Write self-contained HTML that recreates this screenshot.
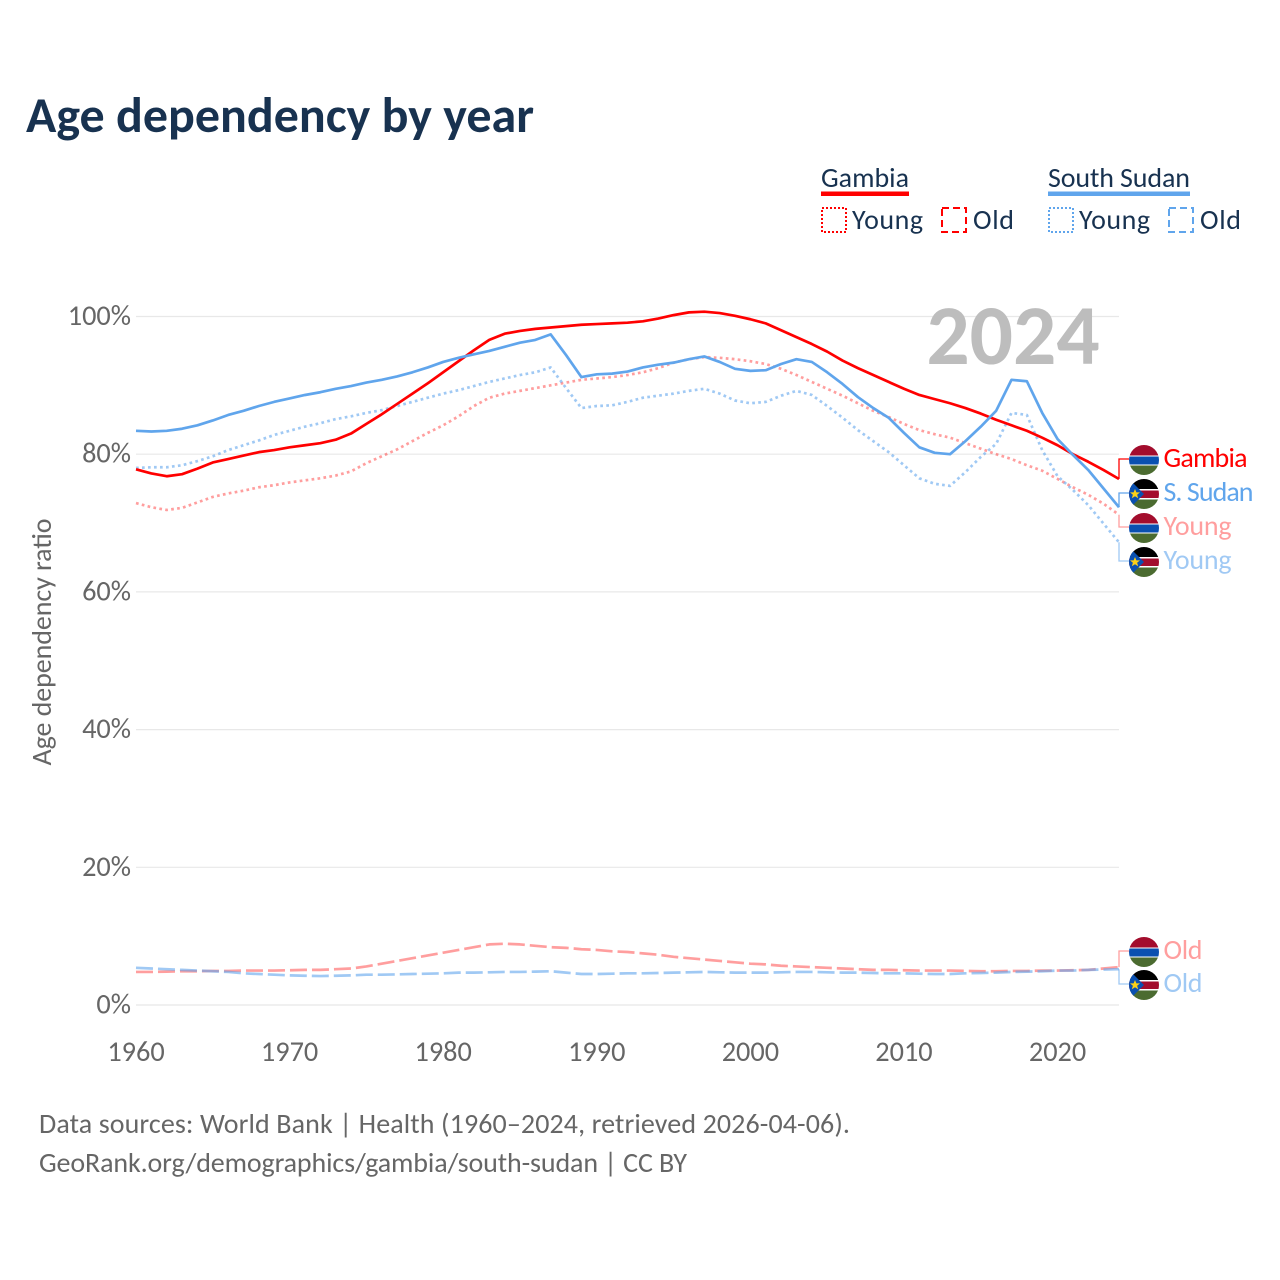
<!DOCTYPE html>
<html lang="en">
<head>
<meta charset="utf-8">
<title>Age dependency by year</title>
<style>
html,body{margin:0;padding:0;background:#fff;width:1280px;height:1280px;overflow:hidden}
svg{display:block}
text{font-family:"Carlito","Lato","Liberation Sans",sans-serif}
</style>
</head>
<body>
<svg id="chart" width="1280" height="1280" viewBox="0 0 1280 1280" xmlns="http://www.w3.org/2000/svg">
<defs>
<clipPath id="flagClip"><circle cx="0" cy="0" r="15"/></clipPath>
<g id="flag-gm">
<g clip-path="url(#flagClip)">
<rect x="-15" y="-15" width="30" height="30" fill="#fff"/>
<rect x="-15" y="-15" width="30" height="10.5" fill="#a30d2d"/>
<rect x="-15" y="-3.5" width="30" height="8" fill="#0a50b0"/>
<rect x="-15" y="5.5" width="30" height="10" fill="#4b6b30"/>
</g>
</g>
<g id="flag-ss">
<g clip-path="url(#flagClip)">
<rect x="-15" y="-15" width="30" height="30" fill="#fff"/>
<rect x="-15" y="-15" width="30" height="10" fill="#000"/>
<rect x="-15" y="-3.5" width="30" height="7.5" fill="#a30d2d"/>
<rect x="-15" y="5.5" width="30" height="10" fill="#4b6b30"/>
<polygon points="-16,-16 0,0 -16,16" fill="#0a50b0"/>
<polygon points="-9,-5 -7.6,-1.6 -4,-1.6 -6.9,0.7 -5.8,4.3 -9,2.2 -12.2,4.3 -11.1,0.7 -14,-1.6 -10.4,-1.6" fill="#fcd116"/>
</g>
</g>
</defs>
<text x="26" y="132" font-size="50" font-weight="700" fill="#183250" textLength="508" lengthAdjust="spacing">Age dependency by year</text>

<text x="821" y="187" font-size="28" fill="#183250" textLength="88">Gambia</text>
<rect x="821" y="191.5" width="88" height="4.5" fill="#ff0000"/>
<rect x="822" y="208" width="24" height="24" fill="none" stroke="#ff0000" stroke-width="2" stroke-dasharray="2 2"/>
<text x="852" y="229" font-size="28" fill="#183250" textLength="71">Young</text>
<rect x="942" y="208" width="24" height="24" fill="none" stroke="#ff0000" stroke-width="2" stroke-dasharray="7 4"/>
<text x="973" y="229" font-size="28" fill="#183250" textLength="41">Old</text>

<text x="1048" y="187" font-size="28" fill="#183250" textLength="142">South Sudan</text>
<rect x="1048" y="191.5" width="142" height="4.5" fill="#60a5ec"/>
<rect x="1049" y="208" width="24" height="24" fill="none" stroke="#60a5ec" stroke-width="2" stroke-dasharray="2 2"/>
<text x="1079" y="229" font-size="28" fill="#183250" textLength="71">Young</text>
<rect x="1169" y="208" width="24" height="24" fill="none" stroke="#60a5ec" stroke-width="2" stroke-dasharray="7 4"/>
<text x="1200" y="229" font-size="28" fill="#183250" textLength="41">Old</text>

<g id="grid"></g>
<g id="yticks"></g>
<g id="xticks"></g>
<text x="1013" y="364" font-size="85.5" font-weight="700" fill="#bdbdbd" text-anchor="middle" id="yearMark">2024</text>
<text transform="translate(51,642) rotate(-90)" font-size="28" fill="#666" text-anchor="middle" textLength="247">Age dependency ratio</text>
<g id="series"></g>
<g id="endlabels"></g>

<text x="39" y="1133" font-size="28" fill="#666" textLength="811">Data sources: World Bank | Health (1960–2024, retrieved 2026-04-06).</text>
<text x="39" y="1172" font-size="28" fill="#666" textLength="648">GeoRank.org/demographics/gambia/south-sudan | CC BY</text>
</svg>
<script>
const years = [1960,1961,1962,1963,1964,1965,1966,1967,1968,1969,1970,1971,1972,1973,1974,1975,1976,1977,1978,1979,1980,1981,1982,1983,1984,1985,1986,1987,1988,1989,1990,1991,1992,1993,1994,1995,1996,1997,1998,1999,2000,2001,2002,2003,2004,2005,2006,2007,2008,2009,2010,2011,2012,2013,2014,2015,2016,2017,2018,2019,2020,2021,2022,2023,2024];
const gambiaTotal = [77.8,77.2,76.8,77.1,77.9,78.8,79.3,79.8,80.3,80.6,81.0,81.3,81.6,82.1,83.0,84.4,85.8,87.3,88.8,90.3,91.9,93.5,95.1,96.6,97.5,97.9,98.2,98.4,98.6,98.8,98.9,99.0,99.1,99.3,99.7,100.2,100.6,100.7,100.5,100.1,99.6,99.0,98.0,97.0,96.0,94.9,93.6,92.5,91.5,90.5,89.5,88.6,88.0,87.4,86.7,85.9,85.0,84.2,83.4,82.4,81.3,80.0,78.9,77.7,76.4];
const sudanTotal = [83.4,83.3,83.4,83.7,84.2,84.9,85.7,86.3,87.0,87.6,88.1,88.6,89.0,89.5,89.9,90.4,90.8,91.3,91.9,92.6,93.4,94.0,94.5,95.0,95.6,96.2,96.6,97.4,94.4,91.2,91.6,91.7,92.0,92.6,93.0,93.3,93.8,94.2,93.4,92.4,92.1,92.2,93.1,93.8,93.4,91.9,90.2,88.3,86.7,85.3,83.1,81.0,80.2,80.0,81.9,84.0,86.3,90.8,90.6,86.0,82.2,79.9,77.7,75.0,72.3];
const gambiaYoung = [72.9,72.3,71.9,72.2,73.0,73.8,74.3,74.7,75.2,75.5,75.9,76.2,76.5,76.9,77.5,78.7,79.7,80.7,81.9,83.1,84.2,85.5,87.0,88.2,88.8,89.2,89.6,90.0,90.4,90.8,91.0,91.2,91.5,91.9,92.5,93.3,93.8,94.1,94.0,93.8,93.5,93.1,92.4,91.5,90.5,89.5,88.5,87.4,86.3,85.4,84.4,83.5,82.9,82.4,81.6,80.8,80.0,79.3,78.4,77.6,76.4,75.2,74.1,72.8,71.2];
const sudanYoung = [78.0,78.1,78.1,78.4,79.0,79.7,80.6,81.3,82.0,82.8,83.4,84.0,84.5,85.1,85.5,86.0,86.4,87.0,87.6,88.2,88.8,89.3,89.9,90.5,91.0,91.5,91.9,92.6,89.6,86.7,87.0,87.1,87.6,88.2,88.5,88.8,89.2,89.5,88.8,87.8,87.4,87.6,88.5,89.2,88.6,87.0,85.3,83.5,81.9,80.3,78.4,76.5,75.7,75.4,77.4,79.6,81.5,86.0,85.7,80.6,76.8,74.8,72.6,69.9,67.2];
const gambiaOld = [4.8,4.8,4.85,4.9,4.9,4.95,4.95,5.0,5.0,5.0,5.05,5.1,5.1,5.2,5.3,5.6,6.0,6.4,6.8,7.2,7.6,8.0,8.4,8.8,8.9,8.8,8.6,8.4,8.3,8.1,8.0,7.8,7.7,7.5,7.3,7.0,6.8,6.6,6.4,6.2,6.0,5.9,5.7,5.6,5.5,5.4,5.3,5.2,5.1,5.1,5.05,5.0,5.0,5.0,4.95,4.9,4.9,4.95,4.95,5.0,5.0,5.05,5.1,5.3,5.5];
const sudanOld = [5.4,5.3,5.2,5.1,5.0,4.9,4.8,4.6,4.5,4.4,4.3,4.25,4.2,4.25,4.3,4.4,4.4,4.45,4.5,4.55,4.6,4.7,4.7,4.75,4.8,4.8,4.85,4.9,4.7,4.5,4.5,4.55,4.6,4.6,4.65,4.7,4.75,4.8,4.75,4.7,4.7,4.7,4.75,4.8,4.8,4.75,4.7,4.7,4.65,4.6,4.6,4.55,4.5,4.5,4.6,4.65,4.7,4.8,4.85,4.9,5.0,5.0,5.1,5.15,5.2];
const yTickValues = [0,20,40,60,80,100];
const xTickValues = [1960,1970,1980,1990,2000,2010,2020];

function xScale(year){ return 136 + (year - 1960) * (1119 - 136) / 64; }
function yScale(v){ return 1005 - v * 6.885; }

const NS = 'http://www.w3.org/2000/svg';
function make(tag, parent){
  const el = document.createElementNS(NS, tag);
  parent.appendChild(el);
  return el;
}

const grid = document.getElementById('grid');
const yticks = document.getElementById('yticks');
const xticks = document.getElementById('xticks');
const seriesG = document.getElementById('series');
const endG = document.getElementById('endlabels');

yTickValues.forEach(function(v){
  const l = make('line', grid);
  
  
  l.setAttribute('x1', 136);
  l.setAttribute('x2', 1119);
  l.setAttribute('y1', yScale(v));
  l.setAttribute('y2', yScale(v));
  l.setAttribute('stroke', '#e8e8e8');
  l.setAttribute('stroke-width', 1.2);
  const t = make('text', yticks);
  
  
  t.setAttribute('x', 131);
  t.setAttribute('y', yScale(v) + 8.5);
  t.setAttribute('font-size', 28.3);
  t.setAttribute('fill', '#666');
  t.setAttribute('text-anchor', 'end');
  t.textContent = v + '%';
});

xTickValues.forEach(function(y){
  const t = make('text', xticks);
  
  
  t.setAttribute('x', xScale(y));
  t.setAttribute('y', 1061);
  t.setAttribute('font-size', 28.3);
  t.setAttribute('fill', '#666');
  t.setAttribute('text-anchor', 'middle');
  t.textContent = y;
});

function drawSeries(values, color, opacity, dash, width, name){
  const p = make('polyline', seriesG);
  
  
  p.setAttribute('points', values.map(function(v, i){ return xScale(years[i]).toFixed(2) + ',' + yScale(v).toFixed(2); }).join(' '));
  p.setAttribute('fill', 'none');
  p.setAttribute('stroke', color);
  p.setAttribute('stroke-opacity', opacity);
  p.setAttribute('stroke-width', width);
  p.setAttribute('stroke-linejoin', 'round');
  if (dash) p.setAttribute('stroke-dasharray', dash);
}

drawSeries(gambiaOld, '#ff0000', 0.38, '17 5', 2.7, 'line-gambia-old');
drawSeries(sudanOld, '#60a5ec', 0.6, '17 5', 2.7, 'line-south-sudan-old');
drawSeries(gambiaYoung, '#ff0000', 0.38, '2.7 3.3', 2.7, 'line-gambia-young');
drawSeries(sudanYoung, '#60a5ec', 0.6, '2.7 3.3', 2.7, 'line-south-sudan-young');
drawSeries(gambiaTotal, '#ff0000', 1, '', 2.7, 'line-gambia-total');
drawSeries(sudanTotal, '#60a5ec', 1, '', 2.7, 'line-south-sudan-total');

function endLabel(values, labelY, color, opacity, flag, text, width, name){
  const last = values[values.length - 1];
  const p = make('path', endG);
  
  
  p.setAttribute('d', 'M1119 ' + yScale(last).toFixed(1) + ' V' + labelY + ' H1129');
  p.setAttribute('fill', 'none');
  p.setAttribute('stroke', color);
  p.setAttribute('stroke-opacity', opacity);
  p.setAttribute('stroke-width', 1.3);
  const u = make('use', endG);
  
  
  u.setAttribute('href', '#' + flag);
  u.setAttribute('transform', 'translate(1144,' + (labelY + 1) + ')');
  const t = make('text', endG);
  
  
  t.setAttribute('x', 1163.5);
  t.setAttribute('y', labelY + 8);
  t.setAttribute('font-size', 28);
  t.setAttribute('fill', color);
  t.setAttribute('fill-opacity', opacity);
  t.setAttribute('textLength', width);
  t.textContent = text;
}

endLabel(gambiaTotal, 459, '#ff0000', 1, 'flag-gm', 'Gambia', 84, 'end-gambia-total');
endLabel(sudanTotal, 493, '#60a5ec', 1, 'flag-ss', 'S. Sudan', 90, 'end-south-sudan-total');
endLabel(gambiaYoung, 527, '#ff0000', 0.38, 'flag-gm', 'Young', 68, 'end-gambia-young');
endLabel(sudanYoung, 561, '#60a5ec', 0.6, 'flag-ss', 'Young', 68, 'end-south-sudan-young');
endLabel(gambiaOld, 951, '#ff0000', 0.38, 'flag-gm', 'Old', 39, 'end-gambia-old');
endLabel(sudanOld, 984, '#60a5ec', 0.6, 'flag-ss', 'Old', 39, 'end-south-sudan-old');
</script>
</body>
</html>
